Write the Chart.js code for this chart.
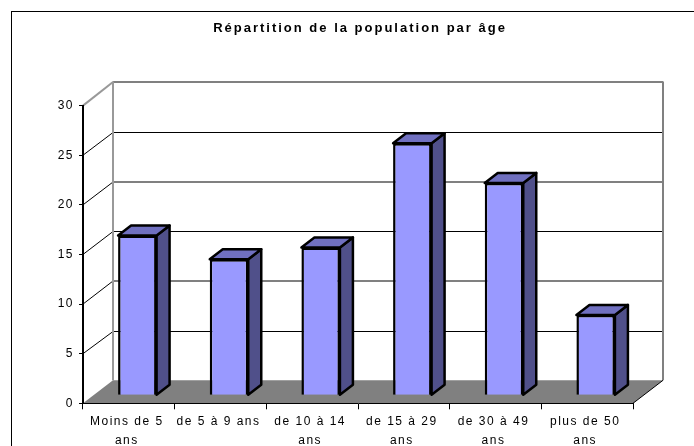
<!DOCTYPE html>
<html lang="fr">
<head>
<meta charset="utf-8">
<title>Répartition de la population par âge</title>
<script src="https://cdn.jsdelivr.net/npm/chart.js@4/dist/chart.umd.min.js"></script>
<style>
  html, body { margin: 0; padding: 0; background: #fff; overflow: hidden; }
  #frame { position: absolute; left: 11px; top: 11px; right: 0; bottom: 0; border-left: 1px solid #000; border-top: 1px solid #000; }
  #chartBox { position: absolute; left: 26px; top: 0; width: 668px; height: 446px; }
</style>
</head>
<body>
<div id="frame"></div>
<div id="chartBox"><canvas id="myChart" width="668" height="446"></canvas></div>
<script>
const chartTitle = "Répartition de la population par âge";
const categories = [
  ["Moins de 5", "ans"],
  "de 5 à 9 ans",
  ["de 10 à 14", "ans"],
  ["de 15 à 29", "ans"],
  ["de 30 à 49", "ans"],
  ["plus de 50", "ans"],
];
const populationShare = [16.1, 13.7, 14.9, 25.4, 21.4, 8.1];
const yTickStep = 5;
const yMax = 30;

const wallDepth = { x: 30, y: -23 };
const barDepth = { x: 13, y: -10 };
const barShift = { x: 8.5, y: -8 };

const line = (ctx, x1, y1, x2, y2, color, width) => {
  ctx.strokeStyle = color;
  ctx.lineWidth = width;
  ctx.beginPath();
  ctx.moveTo(x1, y1);
  ctx.lineTo(x2, y2);
  ctx.stroke();
};

const polygon = (ctx, points, fill) => {
  ctx.fillStyle = fill;
  ctx.strokeStyle = "#000";
  ctx.lineWidth = 2.5;
  ctx.lineJoin = "round";
  ctx.beginPath();
  points.forEach(([x, y], i) => (i ? ctx.lineTo(x, y) : ctx.moveTo(x, y)));
  ctx.closePath();
  ctx.fill();
  ctx.stroke();
};

// back walls and floor of the fake 3d box
const wallPlugin = {
  id: "wall",
  beforeDraw(chart) {
    const { ctx } = chart;
    const xScale = chart.scales.x;
    const yScale = chart.scales.y;
    const left = xScale.left;
    const right = xScale.right;
    const backLeft = left + wallDepth.x;
    const backRight = right + wallDepth.x;
    ctx.letterSpacing = "2px"; // title is drawn first, ticks get their own below
    ctx.save();
    yScale.ticks.forEach((tick, i) => {
      if (tick.value === 0) return;
      const y = yScale.getPixelForValue(tick.value);
      const top = tick.value === yMax;
      const grey = i % 2 === 0;
      const backY = top ? Math.floor(y + wallDepth.y) : grey ? Math.round(y + wallDepth.y) : Math.round(y + wallDepth.y) + 0.5;
      line(ctx, left, y, backLeft, backY, top ? "#999" : "#000", top ? 2 : 1);
      line(ctx, backLeft, backY, backRight, backY, grey ? "#808080" : "#000", grey ? 2 : 1);
    });
    const base = yScale.getPixelForValue(0);
    const backBase = base + wallDepth.y;
    const topBack = yScale.getPixelForValue(yMax) + wallDepth.y;
    line(ctx, backLeft, topBack - 1, backLeft, backBase, "#999", 2);
    line(ctx, backRight, topBack - 1, backRight, backBase, "#808080", 2);
    ctx.fillStyle = "#808080";
    ctx.beginPath();
    ctx.moveTo(left, base);
    ctx.lineTo(right, base);
    ctx.lineTo(backRight, backBase);
    ctx.lineTo(backLeft, backBase);
    ctx.closePath();
    ctx.fill();
    line(ctx, right, base, backRight, backBase, "#000", 1);
    ctx.restore();
  },
  // side and top of each bar, the front face is the library's own bar
  beforeDatasetsDraw(chart) {
    const { ctx } = chart;
    ctx.save();
    ctx.translate(barShift.x, barShift.y);
    chart.getDatasetMeta(0).data.forEach((bar) => {
      const l = bar.x - bar.width / 2;
      const r = bar.x + bar.width / 2;
      const dx = barDepth.x;
      const dy = barDepth.y;
      polygon(ctx, [[r, bar.y], [r + dx, bar.y + dy], [r + dx, bar.base + dy], [r, bar.base]], "#50508a");
      polygon(ctx, [[l, bar.y], [l + dx, bar.y + dy], [r + dx, bar.y + dy], [r, bar.y]], "#7070c0");
    });
  },
  afterDatasetsDraw(chart) {
    chart.ctx.restore();
    chart.ctx.letterSpacing = "1.5px";
  },
};

const Config = {
  type: "bar",
  data: {
    labels: categories,
    datasets: [
      {
        data: populationShare,
        backgroundColor: "#9999ff",
        borderColor: "#000",
        borderWidth: 2.5,
        barPercentage: 0.42,
        categoryPercentage: 1,
      },
    ],
  },
  options: {
    responsive: false,
    animation: false,
    plugins: {
      legend: { display: false },
      tooltip: { enabled: false },
      title: {
        display: true,
        text: chartTitle,
        color: "#000",
        font: { family: "Liberation Sans", size: 13, weight: "bold", lineHeight: 1.2 },
        padding: { top: 21, bottom: 69 },
      },
    },
    scales: {
      x: {
        // room on the right goes through the scale so the title stays centred on the full canvas
        afterFit: (scale) => { scale.height = 42.7; scale.paddingRight = 61; },
        border: { color: "#000", width: 1 },
        grid: { drawOnChartArea: false, color: "#000", tickLength: 6 },
        ticks: {
          z: 1,
          autoSkip: false,
          maxRotation: 0,
          padding: 3,
          labelOffset: -2,
          color: "#000",
          font: { family: "Liberation Sans", size: 12, lineHeight: 1.6 },
        },
      },
      y: {
        min: 0,
        max: yMax,
        afterFit: (scale) => { scale.width = 57; },
        border: { color: "#000", width: 2 },
        grid: { drawOnChartArea: false, color: "#000", tickLength: 4 },
        ticks: {
          z: 1,
          stepSize: yTickStep,
          padding: 5,
          color: "#000",
          font: { family: "Liberation Sans", size: 12 },
        },
      },
    },
  },
  plugins: [wallPlugin],
};

const myChart = new Chart(document.getElementById("myChart"), Config);
</script>
</body>
</html>
